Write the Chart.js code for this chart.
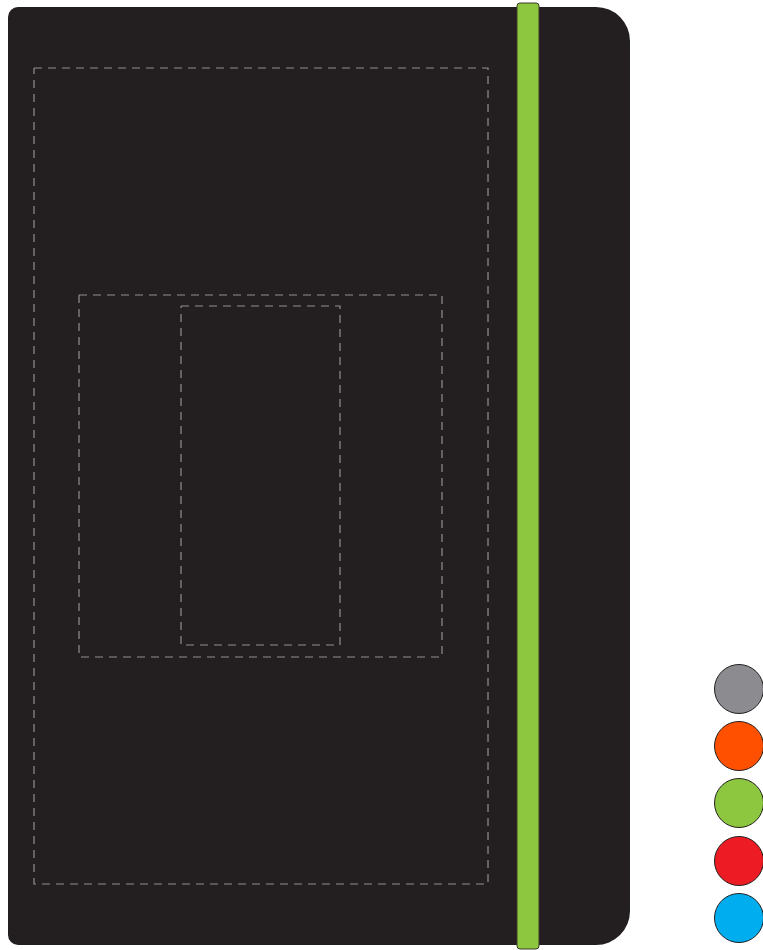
<!DOCTYPE html>
<html>
<head>
<meta charset="utf-8">
<script src="https://cdn.jsdelivr.net/npm/chart.js@4/dist/chart.umd.min.js"></script>
<style>
  html, body { margin: 0; padding: 0; background: #fff; }
  #wrap { width: 763px; height: 950px; }
</style>
</head>
<body>
<div id="wrap"><canvas id="notebook" width="763" height="950"></canvas></div>
<script>
// cover outline: left, top, right, bottom (drawing units)
const cover = [8, 7, 630, 945];
// elastic band: left, right, top, bottom
const band = [517, 539, 3, 949];

// dashed guide boxes: [left, top, right, bottom]
const outerBox = [34, 68, 488, 884];
const middleBox = [79, 295, 442, 657];
const innerBox = [181, 306, 340, 645];

// colour swatches
const swatchX = [739, 739, 739, 739, 739];
const swatchY = [689, 746, 803, 861, 918];
const swatchColors = ["#8c8b90", "#ff5000", "#8dc63f", "#ed1c24", "#00aeef"];

const boxPoints = (b) => [
  { x: b[0], y: b[1] }, { x: b[2], y: b[1] },
  { x: b[2], y: b[3] }, { x: b[0], y: b[3] }, { x: b[0], y: b[1] }
];

const dashed = (b) => ({
  type: "line",
  data: boxPoints(b),
  borderColor: "#8f8f8f",
  borderWidth: 1.2,
  borderDash: [8, 6],
  pointRadius: 0,
  tension: 0,
  fill: false
});

function roundedPath(ctx, l, t, r, b, rl, rr) {
  ctx.beginPath();
  ctx.moveTo(l + rl, t);
  ctx.lineTo(r - rr, t);
  ctx.arcTo(r, t, r, t + rr, rr);
  ctx.lineTo(r, b - rr);
  ctx.arcTo(r, b, r - rr, b, rr);
  ctx.lineTo(l + rl, b);
  ctx.arcTo(l, b, l, b - rl, rl);
  ctx.lineTo(l, t + rl);
  ctx.arcTo(l, t, l + rl, t, rl);
  ctx.closePath();
}

const coverPlugin = {
  id: "cover",
  beforeDatasetsDraw(chart) {
    const { ctx, scales: { x, y } } = chart;
    ctx.save();
    roundedPath(ctx,
      x.getPixelForValue(cover[0]), y.getPixelForValue(cover[1]),
      x.getPixelForValue(cover[2]), y.getPixelForValue(cover[3]), 10, 34);
    ctx.fillStyle = "#231f20";
    ctx.fill();

    roundedPath(ctx,
      x.getPixelForValue(band[0]), y.getPixelForValue(band[2]),
      x.getPixelForValue(band[1]), y.getPixelForValue(band[3]), 3, 3);
    ctx.fillStyle = "#8dc63f";
    ctx.fill();
    ctx.strokeStyle = "#3a3a2a";
    ctx.lineWidth = 1;
    ctx.stroke();
    ctx.restore();
  }
};

new Chart(document.getElementById("notebook"), {
  data: {
    datasets: [
      dashed(outerBox),
      dashed(middleBox),
      dashed(innerBox),
      {
        type: "scatter",
        data: swatchX.map((v, i) => ({ x: v, y: swatchY[i] })),
        backgroundColor: swatchColors,
        borderColor: "#231f20",
        borderWidth: 1,
        pointRadius: 24.5,
        pointHoverRadius: 24.5,
        clip: false
      }
    ]
  },
  options: {
    responsive: false,
    animation: false,
    events: [],
    layout: { padding: 0, autoPadding: false },
    plugins: { legend: { display: false }, tooltip: { enabled: false } },
    scales: {
      x: { type: "linear", min: 0, max: 763, display: false },
      y: { type: "linear", min: 0, max: 950, reverse: true, display: false }
    }
  },
  plugins: [coverPlugin]
});
</script>
</body>
</html>
